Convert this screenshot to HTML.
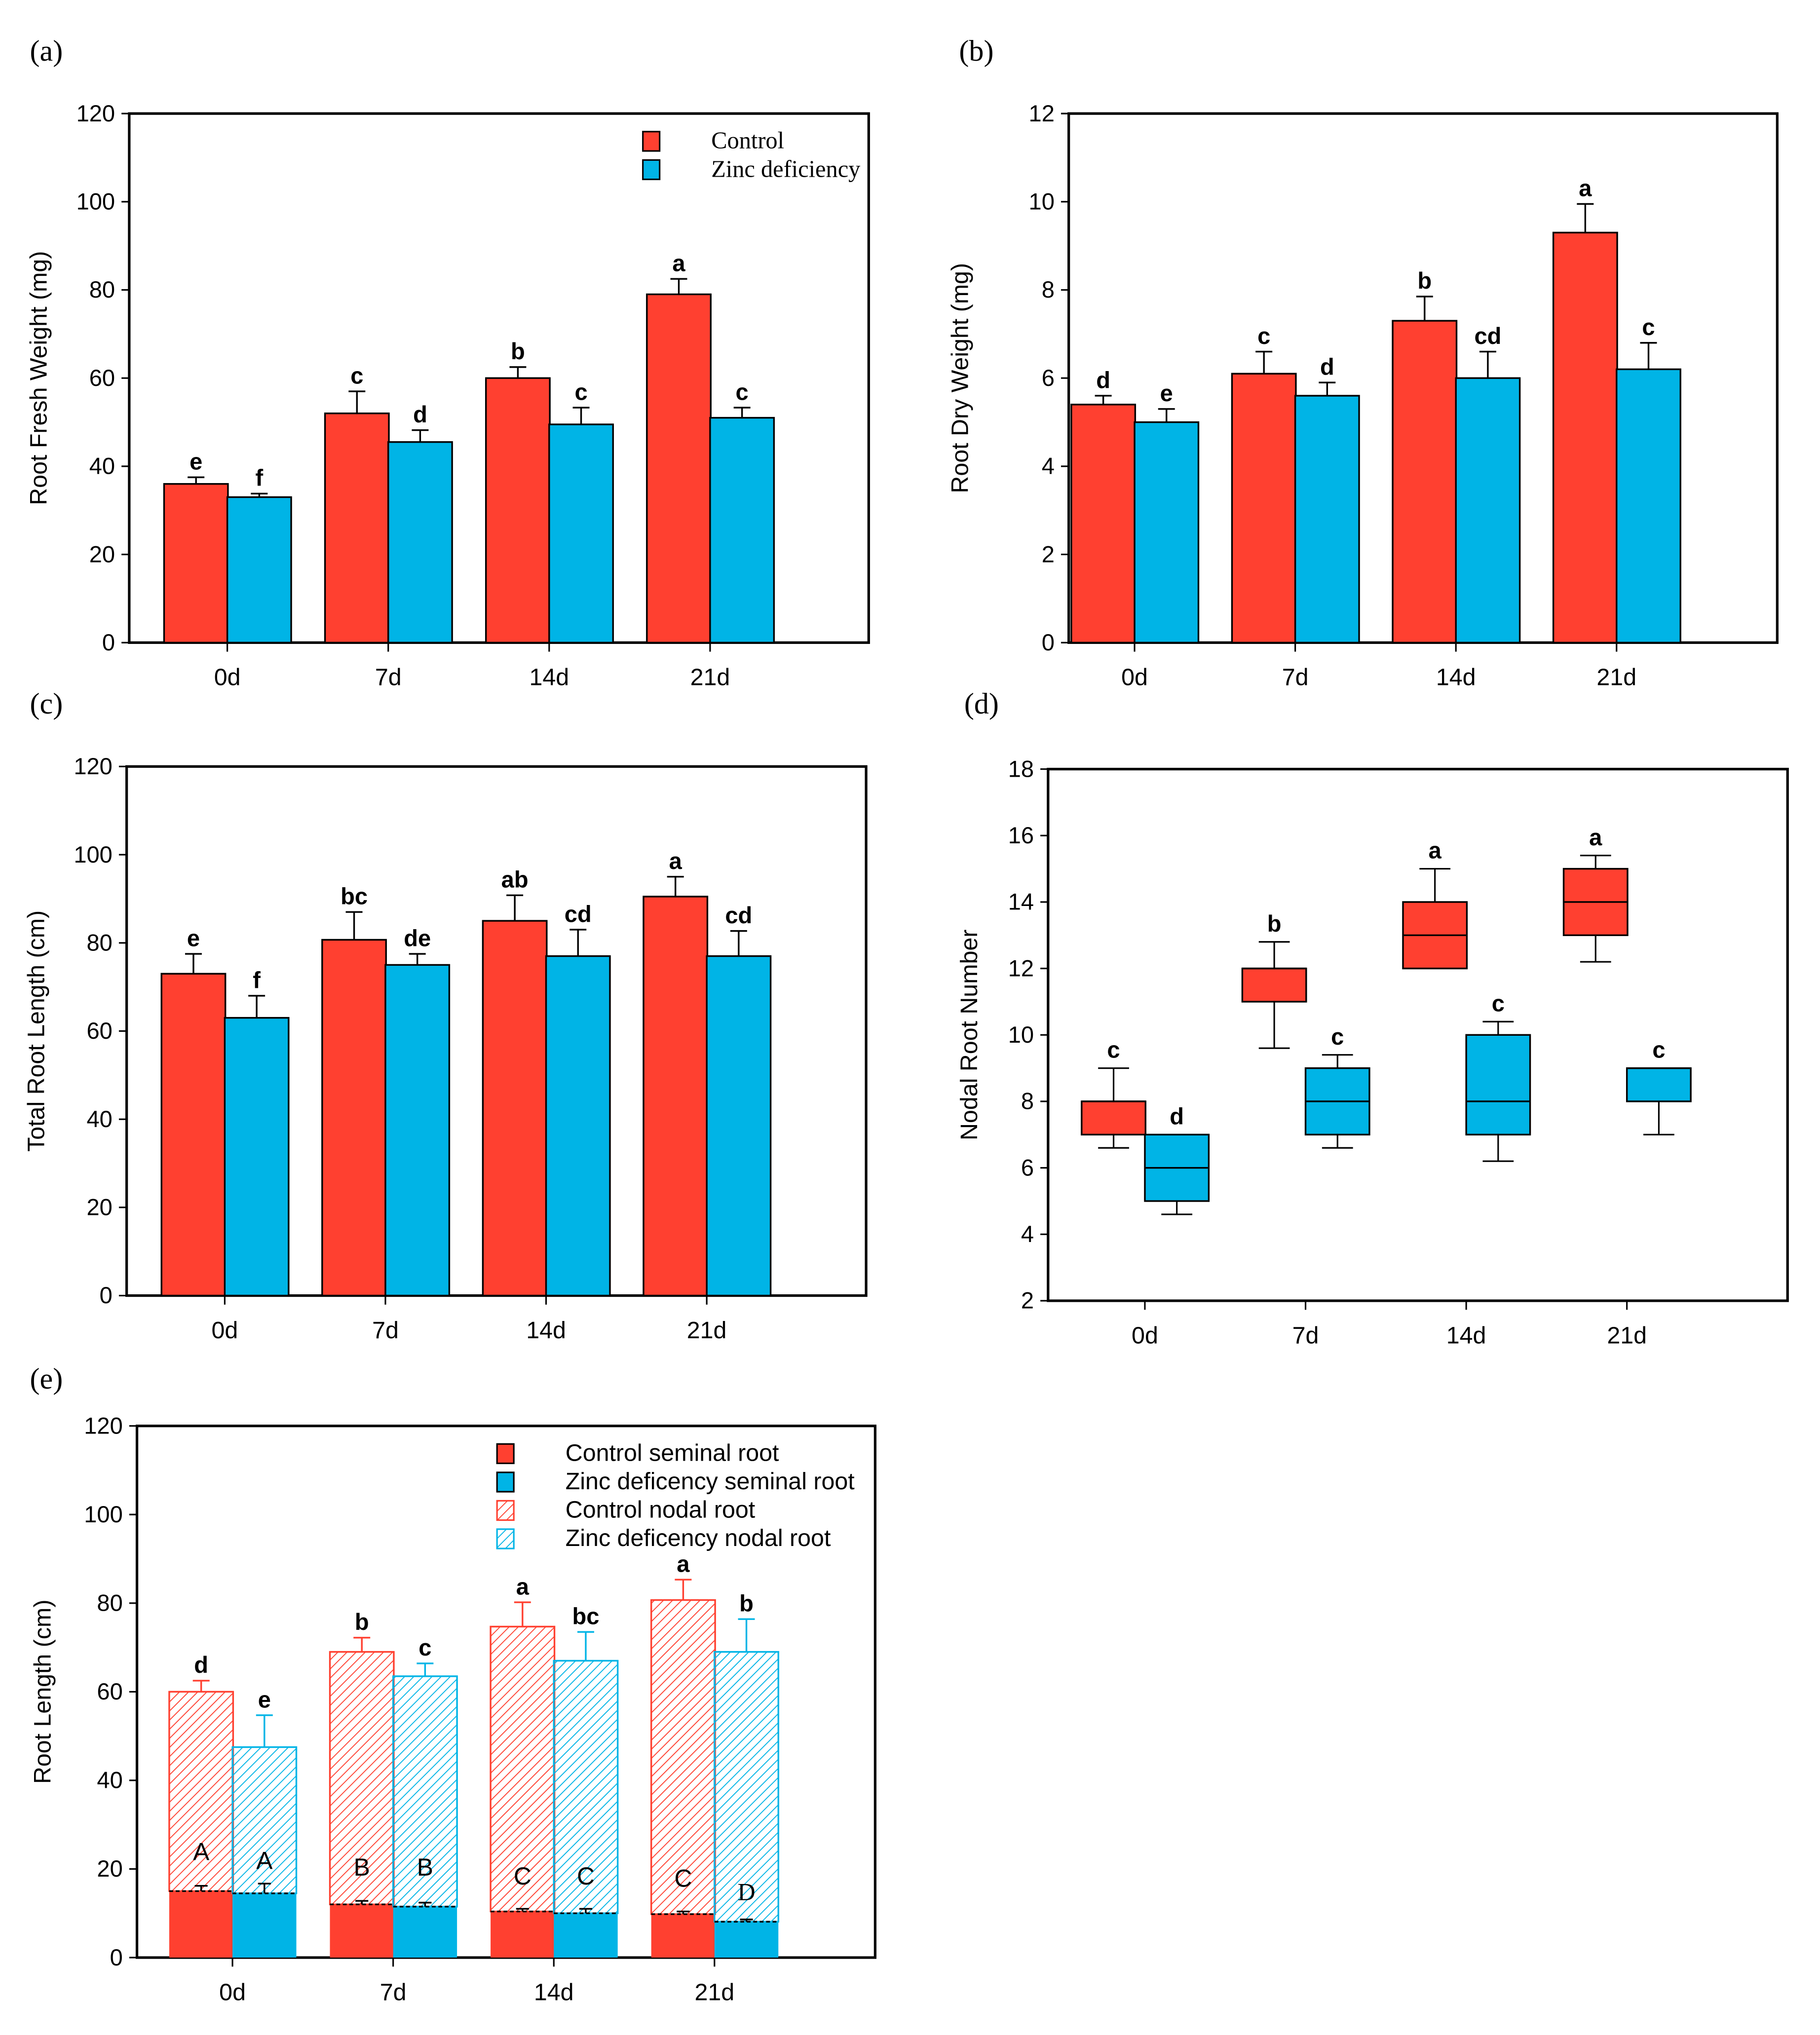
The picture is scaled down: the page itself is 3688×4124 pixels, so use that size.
<!DOCTYPE html>
<html><head><meta charset="utf-8"><style>
html,body{margin:0;padding:0;background:#fff;}
svg{display:block;}
text{font-family:"Liberation Sans",Arial,sans-serif;}
.ser{font-family:"Liberation Serif","Times New Roman",serif;}
</style></head><body>
<svg id="fig" width="3688" height="4124" viewBox="0 0 1410 1577" xmlns="http://www.w3.org/2000/svg">
<defs>
<pattern id="hatchRed" patternUnits="userSpaceOnUse" width="5" height="5" patternTransform="rotate(45)">
<line x1="0" y1="0" x2="0" y2="5" stroke="#ff4030" stroke-width="1.4"/></pattern>
<pattern id="hatchBlue" patternUnits="userSpaceOnUse" width="5" height="5" patternTransform="rotate(45)">
<line x1="0" y1="0" x2="0" y2="5" stroke="#00b4e6" stroke-width="1.4"/></pattern>
</defs>
</svg>
<script>
const RED='#ff4030', BLUE='#00b4e6';
const categories=['0d','7d','14d','21d'];
// (a)
const aControl=[36,52,60,79], aControlErr=[37.5,57,62.5,82.5];
const aZinc=[33,45.5,49.5,51], aZincErr=[33.8,48.2,53.3,53.3];
const aLetC=['e','c','b','a'], aLetZ=['f','d','c','c'];
const aTicks=[0,20,40,60,80,100,120];
// (b)
const bControl=[5.4,6.1,7.3,9.3], bControlErr=[5.6,6.6,7.85,9.95];
const bZinc=[5.0,5.6,6.0,6.2], bZincErr=[5.3,5.9,6.6,6.8];
const bLetC=['d','c','b','a'], bLetZ=['e','d','cd','c'];
const bTicks=[0,2,4,6,8,10,12];
// (c)
const cControl=[73,80.7,85,90.5], cControlErr=[77.5,87,90.8,95];
const cZinc=[63,75,77,77], cZincErr=[68,77.5,83,82.7];
const cLetC=['e','bc','ab','a'], cLetZ=['f','de','cd','cd'];
const cTicks=[0,20,40,60,80,100,120];
// (d) boxplots: [lowWhisker, q1, median, q3, highWhisker]
const dControl=[[6.6,7,8,8,9],[9.6,11,12,12,12.8],[12,12,13,14,15],[12.2,13,14,15,15.4]];
const dZinc=[[4.6,5,6,7,7],[6.6,7,8,9,9.4],[6.2,7,8,10,10.4],[7,8,9,9,9]];
const dLetC=['c','b','a','a'], dLetZ=['d','c','c','c'];
const dTicks=[2,4,6,8,10,12,14,16,18];
// (e)
const eCSem=[15,12,10.4,9.8], eCSemErr=[16.2,12.8,11,10.4];
const eZSem=[14.5,11.5,10,8.1], eZSemErr=[16.7,12.4,11,8.6];
const eCTot=[60,69,74.7,80.7], eCTotErr=[62.5,72.2,80.2,85.3];
const eZTot=[47.5,63.5,67,69], eZTotErr=[54.7,66.4,73.5,76.4];
const eLetC=['d','b','a','a'], eLetZ=['e','c','bc','b'];
const eCapC=['A','B','C','C'], eCapZ=['A','B','C','D'];
const eCapCy=[22,18.5,16.5,16], eCapZy=[20,18.5,16.5,13];
const eTicks=[0,20,40,60,80,100,120];

const svg=document.getElementById('fig');
const NS='http://www.w3.org/2000/svg';
function mk(tag,attrs,parent){const e=document.createElementNS(NS,tag);for(const k in attrs)e.setAttribute(k,attrs[k]);(parent||svg).appendChild(e);return e;}
function txt(s,attrs,parent){const e=mk('text',attrs,parent);e.textContent=s;return e;}

function axes(p){
  const g=mk('g',{});
  
  
  p.y=v=>p.y1-(v-p.min)/(p.max-p.min)*(p.y1-p.y0);
  p.cx=i=>p.c0+i*p.step;
  const fr=mk('rect',{x:p.x0,y:p.y0,width:p.x1-p.x0,height:p.y1-p.y0,fill:'none',stroke:'#000','stroke-width':2},g);
  
  
  p.ticks.forEach(t=>{
    const yy=p.y(t);
    mk('line',{x1:p.x0-6,x2:p.x0,y1:yy,y2:yy,stroke:'#000','stroke-width':1.2},g);
    const tl=txt(String(t),{x:p.x0-11,y:yy+6,'font-size':18,'text-anchor':'end'},g);
    
    
  });
  categories.forEach((c,i)=>{
    const xx=p.cx(i);
    mk('line',{x1:xx,x2:xx,y1:p.y1,y2:p.y1+7,stroke:'#000','stroke-width':1.2},g);
    const tl=txt(c,{x:xx,y:p.y1+33,'font-size':18.5,'text-anchor':'middle'},g);
    
    
  });
  const ty=(p.y0+p.y1)/2;
  const tt=txt(p.title,{x:p.tx,y:ty,'font-size':18.5,'text-anchor':'middle',transform:`rotate(-90 ${p.tx} ${ty})`},g);
  
  
  const pl=txt(p.label,{x:p.lx,y:p.ly,'font-size':23,class:'ser'},g);
  
  
  p.g=g;
  return p;
}
function bar(p,i,side,v,fill,stroke){
  const x=side===0?p.cx(i)-49:p.cx(i);
  const r=mk('rect',{x:x,y:p.y(v),width:49.5,height:p.y1-p.y(v),fill:fill,stroke:stroke,'stroke-width':1.3},p.g);
  
  
  return x;
}
function err(p,xc,v,e,col,w){
  mk('line',{x1:xc,x2:xc,y1:p.y(v),y2:p.y(e),stroke:col,'stroke-width':1.3},p.g);
  mk('line',{x1:xc-(w||6.5),x2:xc+(w||6.5),y1:p.y(e),y2:p.y(e),stroke:col,'stroke-width':1.3},p.g);
}
function letter(p,xc,v,s,opt){
  const t=txt(s,Object.assign({x:xc,y:p.y(v)-6,'font-size':18,'font-weight':'bold','text-anchor':'middle'},opt||{}),p.g);
  
  
}
function simpleBars(p,C,CE,Z,ZE,LC,LZ){
  categories.forEach((c,i)=>{
    const xc=bar(p,i,0,C[i],RED,'#000')+24.75;
    err(p,xc,C[i],CE[i],'#000');
    letter(p,xc,CE[i],LC[i]);
    const xz=bar(p,i,1,Z[i],BLUE,'#000')+24.75;
    err(p,xz,Z[i],ZE[i],'#000');
    letter(p,xz,ZE[i],LZ[i]);
  });
}
function legendItem(g,x,y,fill,stroke,label,font,size){
  const r=mk('rect',{x:x,y:y,width:13,height:15,fill:fill,stroke:stroke,'stroke-width':1.2},g);
  
  
  const t=txt(label,{x:x+53,y:y+13,'font-size':size},g);
  if(font)t.setAttribute('class',font);
  
  
}

const pa=axes({name:'panel-a-fresh-weight',x0:100,x1:673,y0:88,y1:498,min:0,max:120,c0:176,step:124.7,ticks:aTicks,title:'Root Fresh Weight (mg)',tx:36,label:'(a)',lx:23,ly:47});
simpleBars(pa,aControl,aControlErr,aZinc,aZincErr,aLetC,aLetZ);
legendItem(pa.g,498,102,RED,'#000','Control','ser',18.5);
legendItem(pa.g,498,124,BLUE,'#000','Zinc deficiency','ser',18.5);

const pb=axes({name:'panel-b-dry-weight',x0:828,x1:1377,y0:88,y1:498,min:0,max:12,c0:879,step:124.5,ticks:bTicks,title:'Root Dry Weight (mg)',tx:750,label:'(b)',lx:743,ly:47});
simpleBars(pb,bControl,bControlErr,bZinc,bZincErr,bLetC,bLetZ);

const pc=axes({name:'panel-c-total-root-length',x0:98,x1:671,y0:594,y1:1004,min:0,max:120,c0:174,step:124.5,ticks:cTicks,title:'Total Root Length (cm)',tx:34,label:'(c)',lx:23,ly:553});
simpleBars(pc,cControl,cControlErr,cZinc,cZincErr,cLetC,cLetZ);

const pd=axes({name:'panel-d-nodal-root-number',x0:812,x1:1385,y0:596,y1:1008,min:2,max:18,c0:887,step:124.5,ticks:dTicks,title:'Nodal Root Number',tx:757,label:'(d)',lx:747,ly:553});
function box(p,i,side,b,fill,lab){
  const x=side===0?p.cx(i)-49:p.cx(i), xc=x+24.75;
  mk('line',{x1:xc,x2:xc,y1:p.y(b[0]),y2:p.y(b[1]),stroke:'#000','stroke-width':1.2},p.g);
  mk('line',{x1:xc,x2:xc,y1:p.y(b[3]),y2:p.y(b[4]),stroke:'#000','stroke-width':1.2},p.g);
  if(b[0]<b[1])mk('line',{x1:xc-12,x2:xc+12,y1:p.y(b[0]),y2:p.y(b[0]),stroke:'#000','stroke-width':1.2},p.g);
  if(b[4]>b[3])mk('line',{x1:xc-12,x2:xc+12,y1:p.y(b[4]),y2:p.y(b[4]),stroke:'#000','stroke-width':1.2},p.g);
  const r=mk('rect',{x:x,y:p.y(b[3]),width:49.5,height:p.y(b[1])-p.y(b[3]),fill:fill,stroke:'#000','stroke-width':1.3},p.g);
  
  
  mk('line',{x1:x,x2:x+49.5,y1:p.y(b[2]),y2:p.y(b[2]),stroke:'#000','stroke-width':1.3},p.g);
  letter(p,xc,b[4],lab,{y:p.y(b[4])-8});
}
categories.forEach((c,i)=>{box(pd,i,0,dControl[i],RED,dLetC[i]);box(pd,i,1,dZinc[i],BLUE,dLetZ[i]);});

const pe=axes({name:'panel-e-root-length',x0:106,x1:678,y0:1105,y1:1517,min:0,max:120,c0:180,step:124.5,ticks:eTicks,title:'Root Length (cm)',tx:39,label:'(e)',lx:23,ly:1076});
categories.forEach((c,i)=>{
  [[0,eCSem,eCSemErr,eCTot,eCTotErr,RED,'url(#hatchRed)',eLetC,eCapC,eCapCy],[1,eZSem,eZSemErr,eZTot,eZTotErr,BLUE,'url(#hatchBlue)',eLetZ,eCapZ,eCapZy]].forEach(s=>{
    const side=s[0], col=s[5];
    const x=side===0?pe.cx(i)-49:pe.cx(i), xc=x+24.75;
    const top=mk('rect',{x:x,y:pe.y(s[3][i]),width:49.5,height:pe.y(s[1][i])-pe.y(s[3][i]),fill:s[6],stroke:col,'stroke-width':1.3},pe.g);
    
    
    const bot=mk('rect',{x:x,y:pe.y(s[1][i]),width:49.5,height:pe.y1-pe.y(s[1][i]),fill:col},pe.g);
    
    
    mk('line',{x1:x,x2:x+49.5,y1:pe.y(s[1][i]),y2:pe.y(s[1][i]),stroke:'#000','stroke-width':1.3,'stroke-dasharray':'3,2'},pe.g);
    err(pe,xc,s[3][i],s[4][i],col);
    err(pe,xc,s[1][i],s[2][i],'#000',5);
    letter(pe,xc,s[4][i],s[7][i]);
    const ct=txt(s[8][i],{x:xc,y:pe.y(s[9][i]),'font-size':19,'text-anchor':'middle',class:(s[8][i]==='D'?'ser':'')},pe.g);
    
    
  });
});
legendItem(pe.g,385,1119,RED,'#000','Control seminal root',null,18.5);
legendItem(pe.g,385,1141,BLUE,'#000','Zinc deficency seminal root',null,18.5);
legendItem(pe.g,385,1163,'url(#hatchRed)',RED,'Control nodal root',null,18.5);
legendItem(pe.g,385,1185,'url(#hatchBlue)',BLUE,'Zinc deficency nodal root',null,18.5);
</script>
</body></html>
